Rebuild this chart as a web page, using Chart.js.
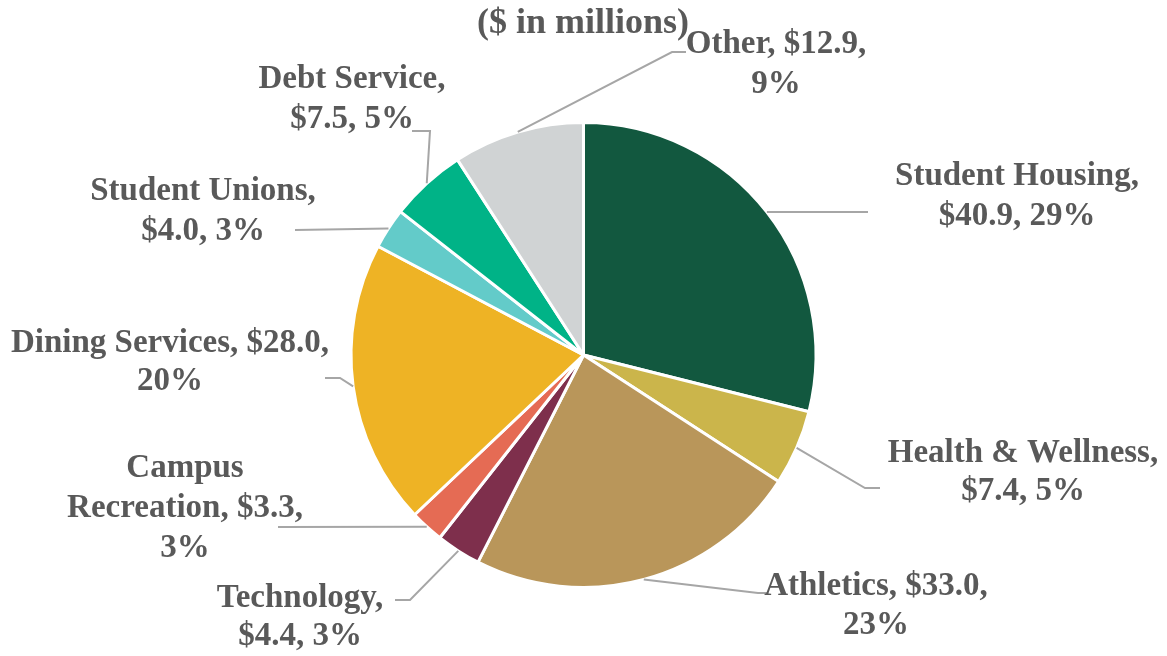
<!DOCTYPE html>
<html>
<head>
<meta charset="utf-8">
<script src="https://cdn.jsdelivr.net/npm/chart.js@4"></script>
<style>
  body { margin: 0; background: #fff; }
  #wrap { width: 1167px; height: 656px; position: relative; }
</style>
</head>
<body>
<div id="wrap"><canvas id="chart" width="1167" height="656"></canvas></div>
<script>
// data ($ in millions)
const categories = ['Student Housing', 'Health & Wellness', 'Athletics', 'Technology',
  'Campus Recreation', 'Dining Services', 'Student Unions', 'Debt Service', 'Other'];
const amounts = [40.9, 7.4, 33.0, 4.4, 3.3, 28.0, 4.0, 7.5, 12.9];
const percents = [29, 5, 23, 3, 3, 20, 3, 5, 9];
const sliceColors = ['#12583F', '#CBB54B', '#B9965A', '#7E2F4C', '#E56B54',
  '#EEB325', '#63CBC9', '#00B387', '#D0D3D4'];
const chartTitle = '($ in millions)';

// how each label wraps: 'a' = name / value+pct, 'b' = name+value / pct, 'c' = split name
const wrapStyle = ['a', 'a', 'b', 'a', 'c', 'b', 'a', 'a', 'b'];

// label placement: center x, first baseline, line height, leader bend points
const labelLayout = [
  { cx: 1017, y: 185, lh: 40, path: [[868, 212]] },
  { cx: 1023, y: 462, lh: 38, path: [[865, 488], [880, 488]] },
  { cx: 876, y: 595, lh: 39, path: [[758, 593], [768, 593]] },
  { cx: 300, y: 607, lh: 38, path: [[410, 600], [395, 600]] },
  { cx: 185, y: 477, lh: 40, path: [[278, 527]] },
  { cx: 170, y: 352, lh: 38, path: [[340, 378], [325, 378]] },
  { cx: 203, y: 200, lh: 40, path: [[295, 230]] },
  { cx: 352, y: 88, lh: 40, path: [[430, 131], [412, 131]] },
  { cx: 776, y: 53, lh: 40, path: [[672, 52], [686, 52]] }
];

const FONT = 'bold 33px "Book Antiqua", Palatino, "Liberation Serif", serif';

function labelLines(i) {
  const name = categories[i];
  const val = '$' + amounts[i].toFixed(1);
  const pct = percents[i] + '%';
  if (wrapStyle[i] === 'a') return [name + ',', val + ', ' + pct];
  if (wrapStyle[i] === 'b') return [name + ', ' + val + ',', pct];
  const words = name.split(' ');
  return [words[0], words.slice(1).join(' ') + ', ' + val + ',', pct];
}

const calloutPlugin = {
  id: 'callouts',
  afterDraw(chart) {
    const ctx = chart.ctx;
    const arcs = chart.getDatasetMeta(0).data;
    ctx.save();
    // leader lines from the middle of each slice edge
    ctx.strokeStyle = '#A6A6A6';
    ctx.lineWidth = 2;
    arcs.forEach((arc, i) => {
      const p = arc.getProps(['x', 'y', 'startAngle', 'endAngle', 'outerRadius'], true);
      const mid = (p.startAngle + p.endAngle) / 2;
      ctx.beginPath();
      ctx.moveTo(p.x + Math.cos(mid) * p.outerRadius, p.y + Math.sin(mid) * p.outerRadius);
      labelLayout[i].path.forEach(pt => ctx.lineTo(pt[0], pt[1]));
      ctx.stroke();
    });
    // label text
    ctx.fillStyle = '#595959';
    ctx.font = FONT;
    ctx.textAlign = 'center';
    ctx.textBaseline = 'alphabetic';
    arcs.forEach((arc, i) => {
      const L = labelLayout[i];
      labelLines(i).forEach((t, k) => ctx.fillText(t, L.cx, L.y + k * L.lh));
    });
    ctx.font = 'bold 36px "Book Antiqua", Palatino, "Liberation Serif", serif';
    ctx.fillText(chartTitle, 583, 33);
    ctx.restore();
  }
};

new Chart(document.getElementById('chart'), {
  type: 'pie',
  data: {
    labels: categories,
    datasets: [{
      data: amounts,
      backgroundColor: sliceColors,
      borderColor: '#FFFFFF',
      borderWidth: 3
    }]
  },
  options: {
    responsive: false,
    animation: false,
    events: [],
    layout: { padding: { top: 121, bottom: 67, left: 100, right: 100 } },
    plugins: {
      legend: { display: false },
      tooltip: { enabled: false }
    }
  },
  plugins: [calloutPlugin]
});
</script>
</body>
</html>
